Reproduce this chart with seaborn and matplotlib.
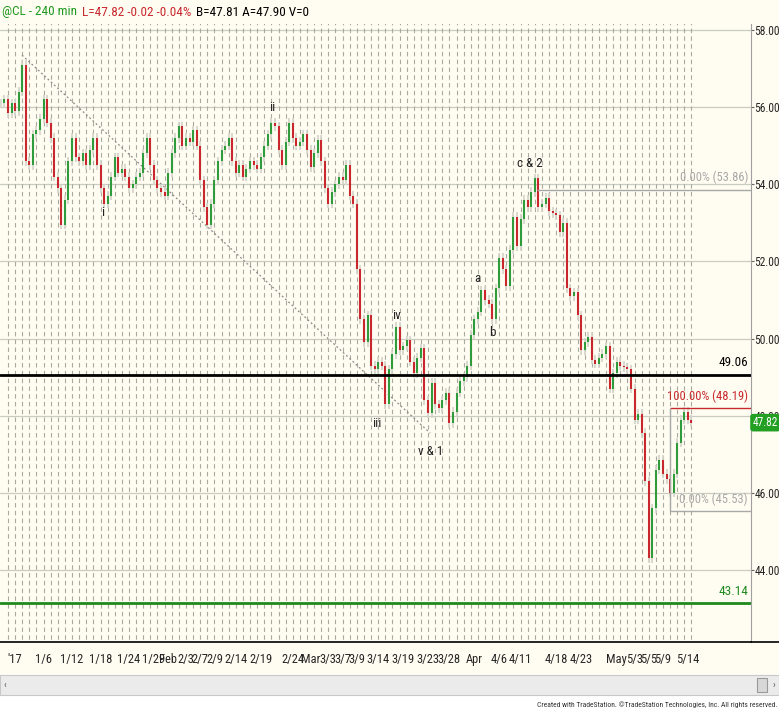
import numpy as np
import matplotlib
matplotlib.use("Agg")
import matplotlib.pyplot as plt
import seaborn as sns
from matplotlib.patches import Rectangle

# @CL 240 min, approx. two closes per trading day
first_day = -1.5   # business days from 2017-01-02
step = 0.5
closes = [56.1, 56.2, 55.85,
          56.1, 55.9, 56.4, 57.1, 54.6, 54.5, 55.3, 55.4, 55.7, 56.2,
          55.6, 55.2, 54.2, 53.9, 52.95, 53.6, 54.6, 55.2, 54.7, 54.6,
          54.8, 54.5, 54.9, 55.2, 54.5, 53.9, 53.5, 53.7, 54.2, 54.7,
          54.3, 54.4, 54.2, 53.9, 54.0, 54.2, 54.3, 54.8, 55.2, 54.5,
          54.1, 53.9, 53.8, 53.7, 54.3, 54.8, 55.2, 55.5, 55.0, 55.2,
          55.1, 55.4, 55.0, 54.1, 53.4, 52.95, 53.5, 54.1, 54.6, 54.9,
          55.0, 55.2, 54.6, 54.3, 54.5, 54.2, 54.4, 54.6, 54.5, 54.4,
          54.7, 55.0, 55.3, 55.6, 55.5, 54.9, 54.5, 55.1, 55.6, 55.2,
          55.0, 55.1, 55.3, 54.9, 54.45, 54.8, 55.15, 54.6, 53.9, 53.5,
          53.8, 54.0, 54.2, 54.1, 54.5, 53.7, 53.5, 51.8, 50.5, 49.9,
          50.6, 49.3, 49.2, 49.4, 49.3, 48.3, 49.2, 49.6, 50.3, 49.7,
          49.8, 49.95, 49.4, 49.1, 49.5, 49.75, 48.4, 48.07, 48.85, 48.3,
          48.2, 48.4, 48.6, 47.8, 48.1, 48.6, 48.9, 49.0, 49.3, 50.1,
          50.5, 50.7, 51.25, 51.0, 50.9, 50.5, 51.3, 52.1, 51.8, 51.35,
          52.3, 53.15, 52.4, 53.1, 53.6, 53.4, 53.8, 54.15, 53.4, 53.5,
          53.65, 53.3, 53.25, 53.2, 52.75, 53.0, 51.3, 51.1, 51.2, 50.6,
          49.7, 49.9, 50.05, 49.45, 49.35, 49.5, 49.6, 49.8, 48.7, 49.1,
          49.4, 49.3, 49.25, 49.2, 48.7, 47.9, 48.05, 47.55, 46.3, 44.3,
          45.6, 46.6, 46.85, 46.5, 46.35, 46.0, 46.5, 47.3, 47.9, 48.1,
          47.9, 47.82]

tick_labels = ["'17", "1/6", "1/12", "1/18", "1/24", "1/29", "Feb", "2/3", "2/7",
               "2/9", "2/14", "2/19", "2/24", "Mar", "3/3", "3/7", "3/9", "3/14",
               "3/19", "3/23", "3/28", "Apr", "4/6", "4/11", "4/18", "4/23",
               "May", "5/3", "5/5", "5/9", "5/14"]
tick_dates = ["2017-01-02", "2017-01-06", "2017-01-12", "2017-01-18", "2017-01-24",
              "2017-01-29", "2017-02-01", "2017-02-03", "2017-02-07", "2017-02-09",
              "2017-02-14", "2017-02-19", "2017-02-24", "2017-03-01", "2017-03-03",
              "2017-03-07", "2017-03-09", "2017-03-14", "2017-03-19", "2017-03-23",
              "2017-03-28", "2017-04-03", "2017-04-06", "2017-04-11", "2017-04-18",
              "2017-04-23", "2017-05-01", "2017-05-03", "2017-05-05", "2017-05-09",
              "2017-05-14"]

# elliott wave labels (day, price)
wave_text = ["i", "ii", "iii", "iv", "v & 1", "a", "b", "c & 2"]
wave_day = [12.85, 36.6, 51.3, 54.1, 58.8, 65.4, 67.5, 72.8]
wave_price = [53.28, 55.98, 47.81, 50.61, 47.06, 51.57, 50.17, 54.55]

# dotted trend line
trend_day = [1.47, 58.8]
trend_price = [57.35, 47.55]

support = 49.06
target = 43.14
fib_top_start = 73.8
fib_top = 53.86
fib_start = 92.5
fib_hi = 48.19
fib_lo = 45.53
last = 47.82

cream = "#fffdf2"
green = "#2f9b3a"
red = "#c8282d"
sns.set_style("white")
plt.rcParams["font.family"] = ["Noto Sans Condensed", "Liberation Sans Narrow",
                               "Roboto Condensed", "DejaVu Sans Condensed", "DejaVu Sans"]

W, H = 779, 713
fig = plt.figure(figsize=(W / 100, H / 100), dpi=100, facecolor=cream)
ax = fig.add_axes([0, (H - 642) / H, 751 / W, (642 - 24) / H])
ax.set_facecolor(cream)

px0, ppd = 11.5, 7.12
ax.set_xlim(-px0 / ppd, (751 - px0) / ppd)
ax.set_ylim(58 - (642 - 30) / 38.571, 58 + (30 - 24) / 38.571)

# grid
for p in np.arange(44, 59, 2):
    ax.axhline(p, color="#c9cdc1", lw=0.9, zorder=0)
ax.vlines(np.arange(-1, 96) + 0.5, 42, 58.2, color="#a9a9a0", lw=0.8,
          linestyles=(0, (4, 3)), zorder=0)

# candles
c = np.array(closes)
x = first_day + step * np.arange(len(c))
o = np.r_[c[0], c[:-1]]
up = c >= o
lo, hi = np.minimum(o, c), np.maximum(o, c)
ax.vlines(x, lo - 0.12, hi + 0.12, color="#d2d2ca", lw=1.2, zorder=2)
ax.vlines(x[up], o[up], c[up], color=green, lw=1.5, zorder=3)
ax.vlines(x[~up], o[~up], c[~up], color=red, lw=1.5, zorder=3)

sns.lineplot(x=trend_day, y=trend_price, ax=ax, color="#8a8a8a", lw=0.9,
             linestyle=(0, (1.5, 2)), zorder=1)

# levels
ax.axhline(support, color="black", lw=2, zorder=4)
ax.axhline(target, color="#1e8a1e", lw=2, zorder=4)
xr = ax.get_xlim()[1]
ax.hlines(fib_top, fib_top_start, xr, color="#a8a8a8", lw=1, zorder=4)
ax.hlines(fib_hi, fib_start, xr, color=red, lw=1, zorder=4)
ax.hlines(fib_lo, fib_start, xr, color="#a8a8a8", lw=1, zorder=4)
ax.vlines(fib_start, fib_lo, fib_hi, color="#a8a8a8", lw=1, zorder=4)

tr = ax.get_yaxis_transform()
kw = dict(transform=tr, ha="right", va="bottom")
ax.text(0.996, fib_top + 0.14, f"0.00% ({fib_top:.2f})", color="#a8a8a8", fontsize=9, **kw)
ax.text(0.996, fib_hi + 0.14, f"100.00% ({fib_hi:.2f})", color=red, fontsize=9, **kw)
ax.text(0.996, fib_lo + 0.14, f"0.00% ({fib_lo:.2f})", color="#a8a8a8", fontsize=9, **kw)
ax.text(0.996, support + 0.14, f"{support:.2f}", color="black", fontsize=9.5, **kw)
ax.text(0.996, target + 0.14, f"{target:.2f}", color="#1e8a1e", fontsize=9.5, **kw)

for t, d, p in zip(wave_text, wave_day, wave_price):
    ax.text(d, p, t, ha="center", va="center", fontsize=9.5, color="#222222", zorder=5)

# axes
ax.yaxis.tick_right()
ax.set_yticks(np.arange(44, 59, 2))
ax.set_yticklabels([f"{v:.2f}" for v in np.arange(44, 59, 2)], fontsize=8.3)
ax.tick_params(axis="y", direction="out", length=2, pad=0.5, color="#666666")
# day labels sit mid-session; month names and sunday openings at the session start
is_month = np.array([not lab[0].isdigit() and lab[0] != "'" for lab in tick_labels])
offset = np.where(np.is_busday(tick_dates) & ~is_month, 0.5, 0.0)
ticks = np.busday_count("2017-01-02", tick_dates) + offset
ax.set_xticks(ticks)
ax.set_xticklabels(tick_labels, fontsize=9)
ax.tick_params(axis="x", direction="in", length=9, pad=8, color="#888888")
for s in ["left", "top"]:
    ax.spines[s].set_visible(False)
ax.spines["right"].set_color("#a0a0a0")
ax.spines["bottom"].set_color("black")
ax.spines["bottom"].set_linewidth(1.2)

ax.text(1.002, last, f"{last:.2f}", transform=tr, ha="left", va="center",
        fontsize=8.3, color="white", clip_on=False, zorder=6,
        bbox=dict(boxstyle="round,pad=0.2,rounding_size=0.25", fc="#23a023", ec="none"))

# header: pieces placed one after another
fy = (H - 12) / H
renderer = fig.canvas.get_renderer()
hx = 2
for s, col in [("@CL - 240 min", "#1f9a1f"), ("L=47.82 -0.02 -0.04%", red),
               ("B=47.81 A=47.90 V=0", "black")]:
    t = fig.text(hx / W, fy, s, color=col, fontsize=9.5, va="center")
    hx = t.get_window_extent(renderer).x1 + 5

fig.add_artist(plt.Line2D([751 / W, 1], [(H - 642) / H] * 2, color="black", lw=1.2))
fig.patches.append(Rectangle((0, 0), 1, 18 / H, transform=fig.transFigure,
                             fc="white", ec="none", zorder=0))
fig.patches.append(Rectangle((0, 18 / H), 1, 20 / H, transform=fig.transFigure,
                             fc="#ebebeb", ec="#c8c8c8", lw=0.8))
fig.patches.append(Rectangle((757 / W, 21 / H), 10 / W, 14 / H, transform=fig.transFigure,
                             fc="#d8d8d8", ec="#9a9a9a", lw=0.8))
fig.text(3 / W, 28 / H, "\u2039", fontsize=7, va="center", color="#555555")
fig.text(773 / W, 28 / H, "\u203a", fontsize=7, va="center", color="#555555")
fig.text(777 / W, 8 / H,
         "Created with TradeStation. \u00a9TradeStation Technologies, Inc. All rights reserved.",
         fontsize=5.5, ha="right", va="center", color="#333333")

fig.savefig("out.png", dpi=100, facecolor=cream)
